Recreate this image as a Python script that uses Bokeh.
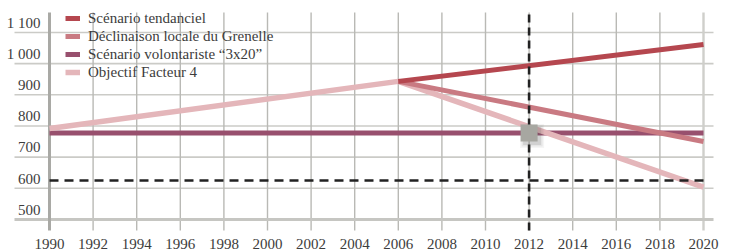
from bokeh.plotting import figure
from bokeh.models import Range1d, Legend, LegendItem
from bokeh.core.properties import value
from bokeh.embed import file_html
from bokeh.resources import INLINE

# ---------------- data ----------------
x_ticks = list(range(1990, 2021, 2))
x_labels = [str(y) for y in x_ticks]
y_ticks = [500, 600, 700, 800, 900, 1000, 1100]
y_labels = ["500", "600", "700", "800", "900", "1 000", "1 100"]

tend_years = [2006, 2020]
tend_vals = [918, 1036]
gren_years = [2006, 2020]
gren_vals = [918, 725]
vol_years = [1990, 2020]
vol_vals = [752, 752]
f4_years = [1990, 2006, 2020]
f4_vals = [767, 918, 579]

target_level = 600
target_year = 2012
marker_year = [2012]
marker_val = [752]

names = ["Scénario tendanciel", "Déclinaison locale du Grenelle",
         "Scénario volontariste \u201c3x20\u201d", "Objectif Facteur 4"]
colors = ["#b5474f", "#c97a82", "#98506e", "#e4b6ba"]

FONT = "Liberation Sans Narrow"
TXT = "#3c3c3c"
GRID = "#cbcbc7"

# --------------- scales ---------------
W, H = 733, 252
PX_YR = 21.8
PX_V = 0.3117
x0 = 1990 - 49 / PX_YR
y_top = 600 + 180 / PX_V
y_bot = 600 - 72 / PX_V

p = figure(width=W, height=H, output_backend="svg", toolbar_location=None,
           x_range=Range1d(x0, x0 + W / PX_YR), y_range=Range1d(y_bot, y_top),
           x_axis_location=None, y_axis_location=None, min_border=0,
           outline_line_color=None)
p.grid.visible = False
p.background_fill_color = "white"

# grid layout helpers (in data units derived from ticks)
grid_vals = [v - 25 for v in y_ticks]          # horizontal grid lines sit under labels
h_left = x_ticks[0] - 35 / PX_YR
h_right = x_ticks[-1] + 10 / PX_YR
v_top = 600 + 168 / PX_V
v_bot = grid_vals[0] - 11 / PX_V

# horizontal grid
p.segment(x0=[h_left] * (len(grid_vals) - 1), x1=[h_right] * (len(grid_vals) - 1),
          y0=grid_vals[1:], y1=grid_vals[1:], line_color=GRID, line_width=1.6)
# vertical grid
p.segment(x0=x_ticks[1:-1], x1=x_ticks[1:-1], y0=[v_bot] * (len(x_ticks) - 2),
          y1=[v_top] * (len(x_ticks) - 2), line_color="#b9b9b5", line_width=1.4)
p.segment(x0=[x_ticks[-1]], x1=[x_ticks[-1]], y0=[v_bot], y1=[v_top],
          line_color="#cfcfcb", line_width=2.4)
# bottom axis line
p.segment(x0=[h_left], x1=[h_right], y0=[grid_vals[0]], y1=[grid_vals[0]],
          line_color="#c6c6c2", line_width=3)
# left axis line
p.segment(x0=[x_ticks[0]], x1=[x_ticks[0]], y0=[v_bot], y1=[v_top],
          line_color="#a9a9a5", line_width=3)

# series
r_vol = p.line(vol_years, vol_vals, line_color=colors[2], line_width=5)
r_f4 = p.line(f4_years, f4_vals, line_color=colors[3], line_width=5.5)
r_gren = p.line(gren_years, gren_vals, line_color=colors[1], line_width=5)
r_tend = p.line(tend_years, tend_vals, line_color=colors[0], line_width=5)

# dashed target lines
p.line([x_ticks[0], x_ticks[-1]], [target_level, target_level],
       line_color="#222222", line_width=2.6, line_dash="9 6")
p.line([target_year, target_year], [v_bot, v_top],
       line_color="#222222", line_width=2.6, line_dash="8 5")

# marker with soft shadow
sx = [m + 3 / PX_YR for m in marker_year]
sy = [m - 3 / PX_V for m in marker_val]
for sz, a in [(24, 0.06), (21, 0.09), (18, 0.14)]:
    p.rect(x=sx, y=sy, width=sz, height=sz, width_units="screen",
           height_units="screen", fill_color="#555555", fill_alpha=a, line_color=None)
p.rect(x=marker_year, y=marker_val, width=17, height=17, width_units="screen",
       height_units="screen", fill_color="#a7a7a1", line_color=None)

# y labels (inside plot, above grid lines)
p.text(x=[x_ticks[0]] * len(y_ticks), y=y_ticks, text=y_labels, x_offset=-9, y_offset=-2,
       text_align="right", text_baseline="middle", text_font=value(FONT),
       text_font_size="15px", text_color=TXT)
# x labels
p.text(x=x_ticks, y=[grid_vals[0]] * len(x_ticks), text=x_labels, y_offset=25,
       text_align="center", text_baseline="middle", text_font=value(FONT),
       text_font_size="15px", text_color=TXT)

# legend
items = [LegendItem(label=names[0], renderers=[r_tend]),
         LegendItem(label=names[1], renderers=[r_gren]),
         LegendItem(label=names[2], renderers=[r_vol]),
         LegendItem(label=names[3], renderers=[r_f4])]
legend = Legend(items=items, location=(65, H - 9 - 4 * 18), orientation="vertical",
                glyph_width=15, glyph_height=14, label_height=18, spacing=0,
                label_standoff=8, padding=0, margin=0,
                label_text_font=FONT, label_text_font_size="15px", label_text_color=TXT,
                background_fill_alpha=0, border_line_alpha=0)
p.add_layout(legend, "center")

open("out.html", "w").write(file_html(p, INLINE))
